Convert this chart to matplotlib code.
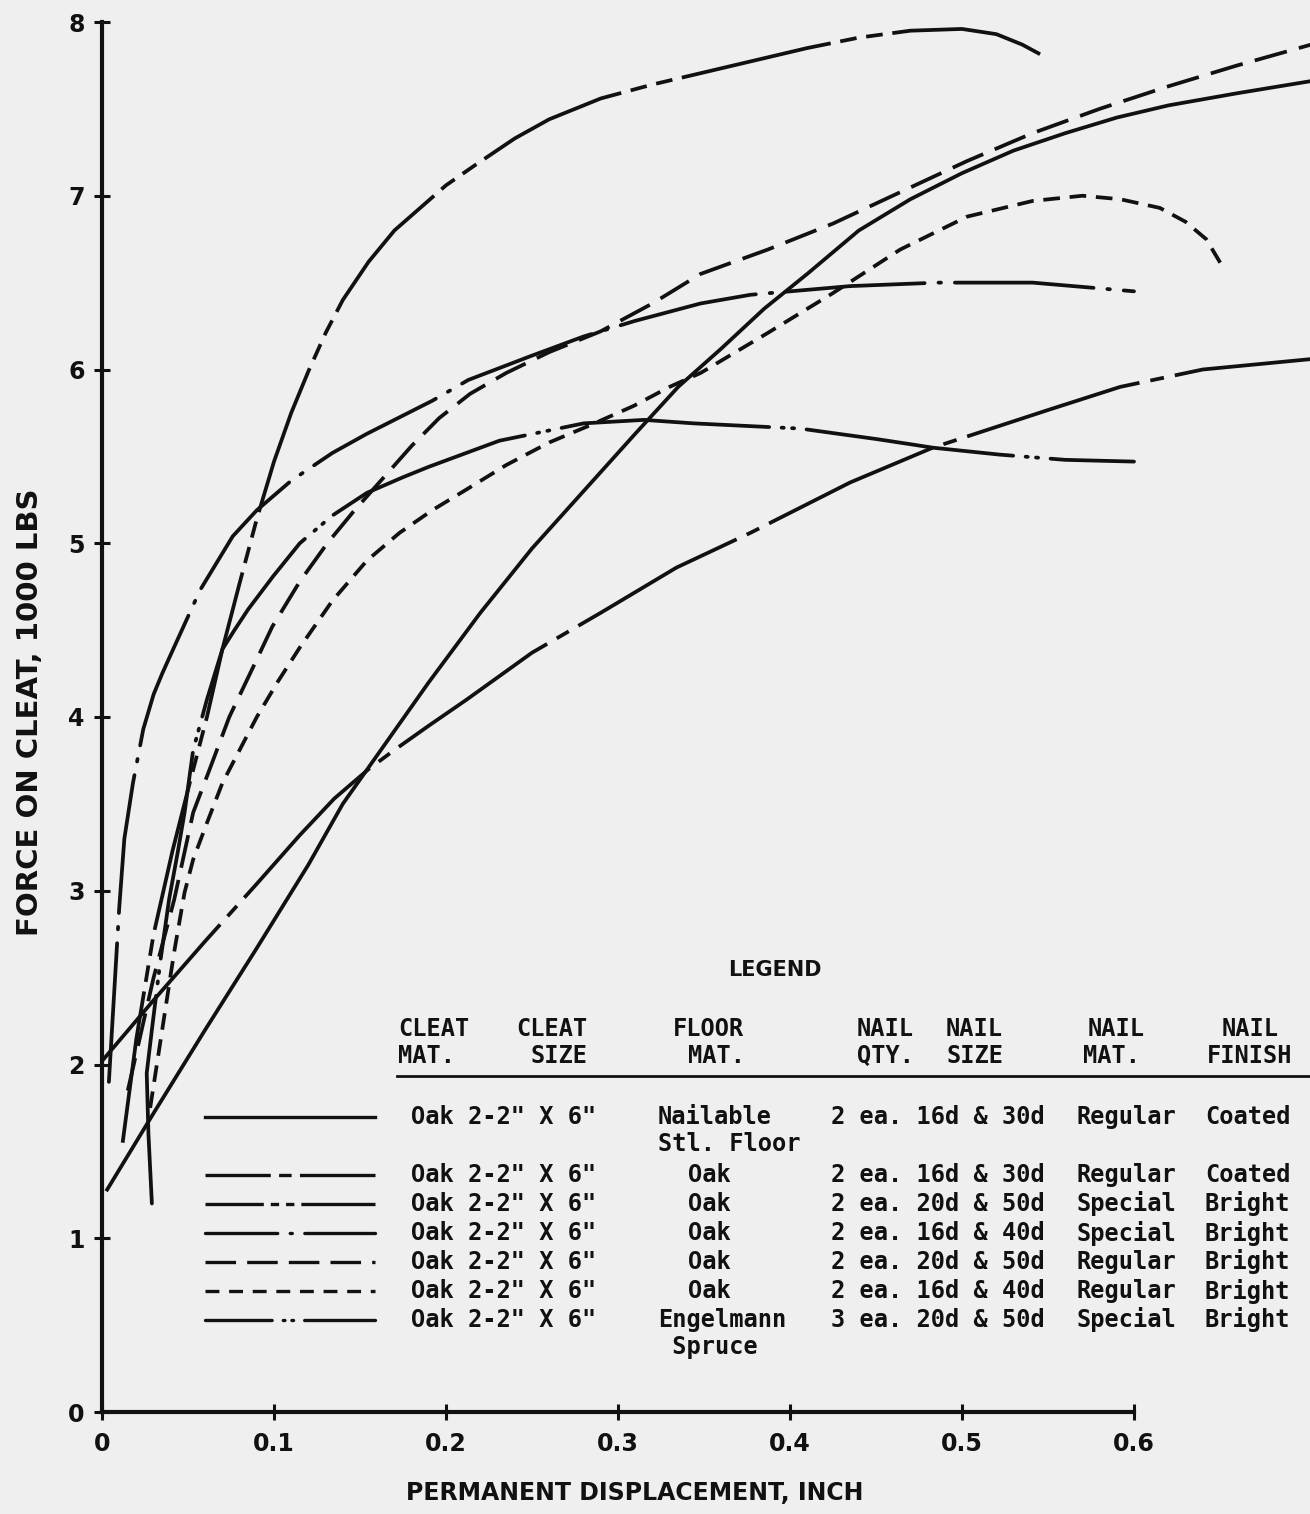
import matplotlib.pyplot as plt
from matplotlib.lines import Line2D

plt.rcParams['lines.scale_dashes'] = False

W, H = 1310, 1514

# curve 1 - Nailable Stl. Floor (solid)
x1 = [0.003, 0.03, 0.06, 0.09, 0.12, 0.14, 0.165, 0.19, 0.22, 0.25, 0.28, 0.31, 0.335, 0.36, 0.385,
      0.41, 0.44, 0.47, 0.50, 0.53, 0.56, 0.59, 0.62, 0.66, 0.703]
y1 = [1.28, 1.72, 2.2, 2.67, 3.15, 3.5, 3.85, 4.2, 4.6, 4.97, 5.3, 5.63, 5.9, 6.12, 6.35,
      6.55, 6.8, 6.98, 7.13, 7.26, 7.36, 7.45, 7.52, 7.59, 7.66]

# curve 2 - Oak, 16d & 30d, Regular, Coated
x2 = [0.0, 0.03, 0.06, 0.09, 0.115, 0.135, 0.155, 0.17, 0.19, 0.212, 0.25, 0.29, 0.334, 0.377,
      0.435, 0.483, 0.551, 0.592, 0.64, 0.703]
y2 = [2.02, 2.37, 2.71, 3.04, 3.32, 3.53, 3.70, 3.81, 3.95, 4.10, 4.37, 4.6, 4.86, 5.06,
      5.35, 5.55, 5.77, 5.90, 6.0, 6.06]

# curve 3 - Oak, 20d & 50d, Special, Bright
x3 = [0.012, 0.02, 0.03, 0.041, 0.051, 0.061, 0.07, 0.08, 0.09, 0.1, 0.11, 0.12, 0.13, 0.14,
      0.155, 0.17, 0.185, 0.2, 0.216, 0.24, 0.26, 0.29, 0.32, 0.35, 0.38, 0.41, 0.44, 0.47,
      0.5, 0.52, 0.535, 0.55]
y3 = [1.55, 2.15, 2.75, 3.23, 3.62, 4.0, 4.39, 4.77, 5.14, 5.47, 5.75, 5.99, 6.21, 6.4,
      6.62, 6.8, 6.93, 7.06, 7.17, 7.33, 7.44, 7.56, 7.64, 7.71, 7.78, 7.85, 7.91, 7.95,
      7.96, 7.93, 7.87, 7.79]

# curve 4 - Oak, 16d & 40d, Special, Bright
x4 = [0.004, 0.007, 0.01, 0.013, 0.018, 0.024, 0.03, 0.035, 0.04, 0.057, 0.076, 0.09, 0.11,
      0.134, 0.154, 0.192, 0.213, 0.25, 0.28, 0.31, 0.348, 0.377, 0.435, 0.486, 0.541, 0.6]
y4 = [1.9, 2.4, 2.9, 3.3, 3.62, 3.93, 4.13, 4.25, 4.36, 4.73, 5.04, 5.19, 5.36,
      5.52, 5.63, 5.82, 5.94, 6.08, 6.19, 6.28, 6.38, 6.43, 6.48, 6.5, 6.5, 6.45]

# curve 5 - Oak, 20d & 50d, Regular, Bright
x5 = [0.015, 0.03, 0.042, 0.053, 0.063, 0.074, 0.088, 0.099, 0.115, 0.131, 0.146, 0.163, 0.18,
      0.196, 0.214, 0.235, 0.26, 0.29, 0.32, 0.348, 0.387, 0.425, 0.464, 0.503, 0.541, 0.58,
      0.62, 0.66, 0.703]
y5 = [1.85, 2.5, 2.95, 3.45, 3.71, 4.0, 4.29, 4.52, 4.78, 5.0, 5.18, 5.37, 5.56,
      5.72, 5.86, 5.98, 6.1, 6.22, 6.38, 6.55, 6.69, 6.84, 7.02, 7.2, 7.36, 7.5,
      7.63, 7.75, 7.87]

# curve 6 - Oak, 16d & 40d, Regular, Bright
x6 = [0.028, 0.035, 0.042, 0.048, 0.053, 0.061, 0.07, 0.08, 0.09, 0.102, 0.115, 0.134, 0.154,
      0.173, 0.192, 0.212, 0.235, 0.26, 0.284, 0.309, 0.33, 0.348, 0.387, 0.425, 0.464, 0.503,
      0.541, 0.57, 0.592, 0.615, 0.63, 0.642, 0.651]
y6 = [1.75, 2.2, 2.65, 2.99, 3.18, 3.39, 3.62, 3.81, 4.0, 4.2, 4.4, 4.67, 4.9,
      5.06, 5.19, 5.31, 5.45, 5.58, 5.68, 5.79, 5.9, 5.98, 6.21, 6.44, 6.69, 6.88,
      6.97, 7.0, 6.98, 6.93, 6.85, 6.75, 6.6]

# curve 7 - Engelmann Spruce, 3 ea. 20d & 50d, Special, Bright
x7 = [0.029, 0.027, 0.026, 0.029, 0.034, 0.039, 0.044, 0.048, 0.053, 0.061, 0.07, 0.077, 0.085,
      0.0995, 0.115, 0.134, 0.154, 0.175, 0.19, 0.231, 0.28, 0.315, 0.344, 0.406, 0.45, 0.47,
      0.483, 0.522, 0.56, 0.6]
y7 = [1.2, 1.6, 1.95, 2.2, 2.6, 2.95, 3.22, 3.45, 3.81, 4.1, 4.39, 4.5, 4.62,
      4.81, 5.0, 5.16, 5.29, 5.38, 5.44, 5.59, 5.69, 5.71, 5.69, 5.66, 5.6, 5.57,
      5.55, 5.51, 5.48, 5.47]

xticks = [0, 0.1, 0.2, 0.3, 0.4, 0.5, 0.6]
xticklabels = ["0", "0.1", "0.2", "0.3", "0.4", "0.5", "0.6"]
yticks = [0, 1, 2, 3, 4, 5, 6, 7, 8]

# legend table
cleat_mat = ["Oak"] * 7
cleat_size = ['2-2" X 6"'] * 7
floor_mat = ["Nailable\nStl. Floor", "Oak", "Oak", "Oak", "Oak", "Oak", "Engelmann\n Spruce"]
nail_qty = ["2 ea.", "2 ea.", "2 ea.", "2 ea.", "2 ea.", "2 ea.", "3 ea."]
nail_size = ["16d & 30d", "16d & 30d", "20d & 50d", "16d & 40d", "20d & 50d", "16d & 40d", "20d & 50d"]
nail_mat = ["Regular", "Regular", "Special", "Special", "Regular", "Regular", "Special"]
nail_finish = ["Coated", "Coated", "Bright", "Bright", "Bright", "Bright", "Bright"]

ink = "#111111"
lw = 2.7

curve_styles = [
    dict(linestyle="-"),
    dict(linestyle=(0, (130, 8, 10, 8))),
    dict(linestyle=(0, (110, 7, 12, 7, 12, 7))),
    dict(linestyle=(0, (100, 10, 1.8, 10)), dash_capstyle="round"),
    dict(linestyle=(0, (24, 9))),
    dict(linestyle=(0, (12, 7))),
    dict(linestyle=(0, (150, 9, 1.5, 6, 1.5, 9)), dash_capstyle="round"),
]
legend_styles = [
    dict(linestyle="-"),
    dict(linestyle=(0, (47, 6, 9, 6, 100, 1))),
    dict(linestyle=(0, (42, 5, 6, 5, 6, 5, 100, 1))),
    dict(linestyle=(0, (52, 9, 1.5, 9, 100, 1)), dash_capstyle="round"),
    dict(linestyle=(0, (22, 8))),
    dict(linestyle=(0, (10, 7))),
    dict(linestyle=(0, (48, 8, 1.2, 5, 1.2, 8, 100, 1)), dash_capstyle="round"),
]

fig = plt.figure(figsize=(W / 100, H / 100), dpi=100, facecolor="#efefef")
ax = fig.add_axes([102 / W, 1 - 1412 / H, 1 - 102 / W, (1412 - 22) / H])
ax.set_facecolor("none")

xs = [x1, x2, x3, x4, x5, x6, x7]
ys = [y1, y2, y3, y4, y5, y6, y7]
for x, y, st in zip(xs, ys, curve_styles):
    ax.plot(x, y, color=ink, lw=lw, clip_on=False, solid_joinstyle="round", **st)

ax.set_xlim(0, 1208 / 1720)
ax.set_ylim(0, 8)
for s in ["top", "right"]:
    ax.spines[s].set_visible(False)
for s in ["left", "bottom"]:
    ax.spines[s].set_linewidth(3)
    ax.spines[s].set_color(ink)
ax.spines["left"].set_bounds(0, 8)
ax.spines["bottom"].set_bounds(0, 0.6)

ax.set_xticks(xticks)
ax.set_xticklabels(xticklabels)
ax.set_yticks(yticks)
ax.tick_params(direction="inout", length=11, width=2.2, color=ink)
ax.tick_params(axis="x", pad=9)
ax.tick_params(axis="y", pad=7)
for lab in ax.get_xticklabels() + ax.get_yticklabels():
    lab.set_fontsize(17)
    lab.set_fontweight("bold")
    lab.set_color(ink)

fig.text(30 / W, 1 - 712 / H, "FORCE ON CLEAT, 1000 LBS", rotation=90, ha="center", va="center",
         fontsize=21, fontweight="bold", color=ink)
fig.text(635 / W, 1 - 1493 / H, "PERMANENT DISPLACEMENT, INCH", ha="center", va="center",
         fontsize=17, fontweight="bold", color=ink)

# legend block
mono = dict(family="DejaVu Sans Mono", fontweight="bold", fontsize=17, color=ink, va="center")
fig.text(775 / W, 1 - 970 / H, "LEGEND", ha="center", va="center", fontsize=15,
         fontweight="bold", color=ink)

headers = [("CLEAT", 398, "MAT.", 398), ("CLEAT", 516, "SIZE", 530), ("FLOOR", 673, "MAT.", 688),
           ("NAIL", 857, "QTY.", 857), ("NAIL", 946, "SIZE", 946), ("NAIL", 1088, "MAT.", 1083),
           ("NAIL", 1222, "FINISH", 1207)]
for t1, p1, t2, p2 in headers:
    fig.text(p1 / W, 1 - 1029 / H, t1, **mono)
    fig.text(p2 / W, 1 - 1056 / H, t2, **mono)
fig.add_artist(Line2D([397 / W, 1.0], [1 - 1076 / H] * 2, transform=fig.transFigure,
                      color=ink, lw=2))

row_y = [1117, 1175, 1204, 1233, 1262, 1291, 1320]
for i, yy in enumerate(row_y):
    fy = 1 - yy / H
    fig.add_artist(Line2D([205 / W, 375 / W], [fy, fy], transform=fig.transFigure,
                          color=ink, lw=2.4, **legend_styles[i]))
    fig.text(411 / W, fy, cleat_mat[i] + " " + cleat_size[i], **mono)
    fm = floor_mat[i].split("\n")
    if len(fm) == 1:
        fig.text(688 / W, fy, fm[0], **mono)
    else:
        fig.text(658 / W, fy, fm[0], **mono)
        fig.text(658 / W, fy - 27 / H, fm[1], **mono)
    fig.text(831 / W, fy, nail_qty[i] + " " + nail_size[i], **mono)
    fig.text(1077 / W, fy, nail_mat[i], **mono)
    fig.text(1205 / W, fy, nail_finish[i], **mono)

fig.savefig("out.png", dpi=100, facecolor=fig.get_facecolor())
